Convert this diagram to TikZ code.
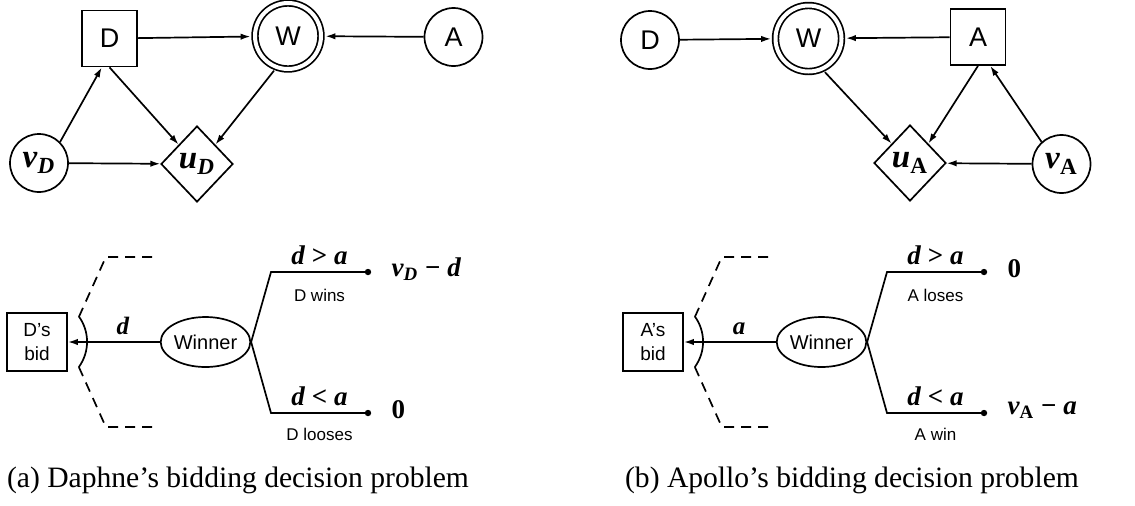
\documentclass[tikz,border=0pt]{standalone}
\usepackage{fontspec}
\setmainfont{Liberation Serif}
\newfontfamily\arialfont{Liberation Sans}
\usetikzlibrary{calc,shapes,arrows.meta}

\begin{document}
\begin{tikzpicture}[x=0.5pt,y=-0.5pt,line width=0.85pt,
    >={Latex[length=5pt,width=3.2pt]},
    sflabel/.style={font=\arialfont\fontsize{13.5}{15}\selectfont},
    mathlabel/.style={font=\bfseries\fontsize{16.5}{18}\selectfont},
    chance/.style={draw,circle,minimum size=29pt,inner sep=0pt},
    deci/.style={draw,rectangle,minimum width=27.5pt,minimum height=28pt,inner sep=0pt},
    outcome/.style={draw,circle,double,double distance=2pt,minimum size=33pt,inner sep=0pt,outer sep=2.2pt},
    util/.style={draw,diamond,minimum width=36pt,minimum height=38pt,inner sep=0pt},
    bidbox/.style={draw,rectangle,minimum width=30pt,minimum height=29pt,inner sep=1pt,align=center,font=\arialfont\fontsize{9.5}{12}\selectfont},
    winner/.style={draw,ellipse,minimum width=40pt,minimum height=25pt,inner sep=0pt,font=\arialfont\fontsize{10}{12}\selectfont},
    bidvar/.style={font=\bfseries\fontsize{12.5}{14}\selectfont},
    branch/.style={font=\bfseries\fontsize{13.5}{15}\selectfont},
    result/.style={font=\arialfont\fontsize{8.5}{10}\selectfont},
    payoff/.style={right=8pt,yshift=1.5pt,font=\bfseries\fontsize{13.5}{15}\selectfont},
    caption/.style={font=\fontsize{14.8}{17}\selectfont},
    bidrange/.style={dash pattern=on 5pt off 3.5pt}]
  \useasboundingbox (0,0) rectangle (1135,505);

  % (a) influence diagram for Daphne
  \node [deci,sflabel] (D1) at (109.5,38.5) {D};
  \node [outcome,sflabel] (W1) at (288,36) {W};
  \node [chance,sflabel] (A1) at (453.5,37) {A};
  \node [chance,mathlabel] (vD) at (39,163) {\textit{v}\textsubscript{\textit{D}}};
  \node [util,mathlabel] (uD) at (197,164) {\textit{u}\textsubscript{\textit{D}}};
  \path[->]
    (D1) edge (W1)
    (A1) edge (W1)
    (vD.45) edge (D1.-105)
    (D1.south) edge (uD.north west)
    (W1.248) edge (uD.north east)
    (vD) edge (uD)
    ;

  % (b) influence diagram for Apollo
  \node [chance,sflabel] (D2) at (650,40) {D};
  \node [outcome,sflabel] (W2) at (808.5,38.5) {W};
  \node [deci,sflabel] (A2) at (978,37) {A};
  \node [util,mathlabel] (uA) at (910,163) {\textit{u}\textsubscript{A}};
  \node [chance,mathlabel] (vA) at (1061.5,164) {\textit{v}\textsubscript{A}};
  \path[->]
    (D2) edge (W2)
    (A2) edge (W2)
    (vA.132) edge (A2.-67)
    (A2.south) edge (uA.north east)
    (W2.-64) edge (uA.north west)
    (vA) edge (uA)
    ;

  % (a) decision tree for Daphne
  \node [bidbox] (dbid) at (37,342) {D’s\\bid};
  \node [winner] (dwin) at (205.5,342) {Winner};
  \coordinate (dup) at (271,272);
  \coordinate (dupend) at (368,272);
  \coordinate (dlo) at (271,413);
  \coordinate (dloend) at (368,413);
  \draw[->] (dwin) -- node[pos=0.4,above,bidvar] {\textit{d}} (dbid);
  \draw ($(dbid.east)+(11,25)$) arc[start angle=36,end angle=-36,radius=43];
  \draw[bidrange] ($(dbid.east)+(11,-25)$) -- ++(27,-60) -- ++(47,0);
  \draw[bidrange] ($(dbid.east)+(11,25)$) -- ++(27,60) -- ++(47,0);
  \draw (dwin.east) -- (dup) -- node[above,branch] {\textit{d} > \textit{a}} node[below=5pt,result] {D wins} (dupend);
  \draw (dwin.east) -- (dlo) -- node[above,branch] {\textit{d} < \textit{a}} node[below=4pt,result] {D looses} (dloend);
  \fill (dupend) circle (1.6pt);
  \fill (dloend) circle (1.6pt);
  \node [payoff] at (dupend) {\textit{v}\textsubscript{\textit{D}} − \textit{d}};
  \node [payoff] at (dloend) {0};

  % (b) decision tree for Apollo
  \node [bidbox] (abid) at (653,342) {A’s\\bid};
  \node [winner] (awin) at (821.5,342) {Winner};
  \coordinate (aup) at (887,272);
  \coordinate (aupend) at (984,272);
  \coordinate (alo) at (887,413);
  \coordinate (aloend) at (984,413);
  \draw[->] (awin) -- node[pos=0.4,above,bidvar] {\textit{a}} (abid);
  \draw ($(abid.east)+(11,25)$) arc[start angle=36,end angle=-36,radius=43];
  \draw[bidrange] ($(abid.east)+(11,-25)$) -- ++(27,-60) -- ++(47,0);
  \draw[bidrange] ($(abid.east)+(11,25)$) -- ++(27,60) -- ++(47,0);
  \draw (awin.east) -- (aup) -- node[above,branch] {\textit{d} > \textit{a}} node[below=5pt,result] {A loses} (aupend);
  \draw (awin.east) -- (alo) -- node[above,branch] {\textit{d} < \textit{a}} node[below=4pt,result] {A win} (aloend);
  \fill (aupend) circle (1.6pt);
  \fill (aloend) circle (1.6pt);
  \node [payoff] at (aupend) {0};
  \node [payoff] at (aloend) {\textit{v}\textsubscript{A} − \textit{a}};

  % captions
  \node [caption] (capa) at (238,480) {(a) Daphne’s bidding decision problem};
  \node [caption] (capb) at (852,480) {(b) Apollo’s bidding decision problem};
\end{tikzpicture}
\end{document}
